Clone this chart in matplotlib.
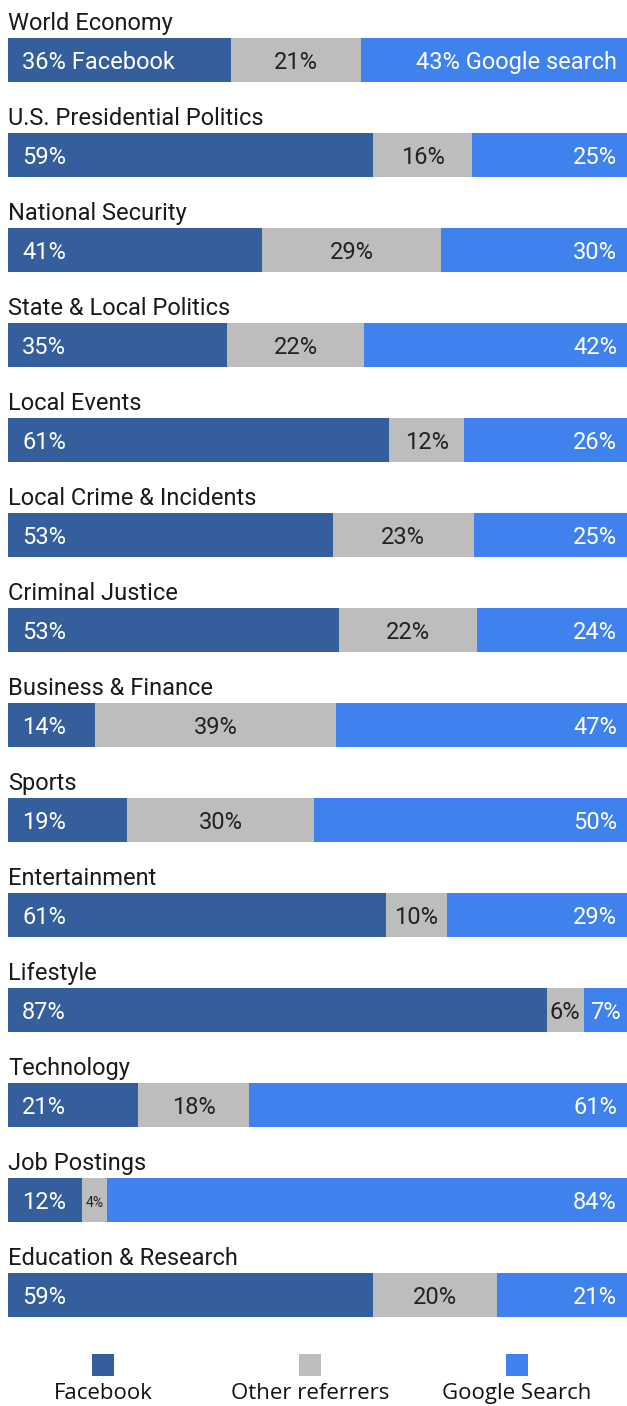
import numpy as np
import matplotlib.pyplot as plt

categories = ['World Economy', 'U.S. Presidential Politics', 'National Security',
              'State & Local Politics', 'Local Events', 'Local Crime & Incidents',
              'Criminal Justice', 'Business & Finance', 'Sports', 'Entertainment',
              'Lifestyle', 'Technology', 'Job Postings', 'Education & Research']
facebook = [36, 59, 41, 35, 61, 53, 53, 14, 19, 61, 87, 21, 12, 59]
other = [21, 16, 29, 22, 12, 23, 22, 39, 30, 10, 6, 18, 4, 20]
google = [43, 25, 30, 42, 26, 25, 24, 47, 50, 29, 7, 61, 84, 21]
legend_labels = ['Facebook', 'Other referrers', 'Google Search']

c_fb = '#355f9c'
c_other = '#bdbdbd'
c_google = '#3f82ee'
colors = [c_fb, c_other, c_google]

W, H = 627, 1406
fig = plt.figure(figsize=(W / 100, H / 100), dpi=100)
ax = fig.add_axes([0, 0, 1, 1])
ax.axis('off')

# x: 0% at 8px, 100% at 627px ; y: row i centred at 60 + 95*i px
px_per_pct = (W - 8) / 100
ax.set_xlim(-8 / px_per_pct, 100)
ax.set_ylim((H - 60) / 95, -60 / 95)

fb = np.array(facebook, float)
ot = np.array(other, float)
go = np.array(google, float)
tot = fb + ot + go
fb_w = fb / tot * 100
ot_w = ot / tot * 100
go_w = go / tot * 100

y = np.arange(len(categories))
h = 44 / 95
ax.barh(y, fb_w, height=h, color=c_fb, linewidth=0)
ax.barh(y, ot_w, left=fb_w, height=h, color=c_other, linewidth=0)
ax.barh(y, go_w, left=fb_w + ot_w, height=h, color=c_google, linewidth=0)

bar_font = 'Roboto'
fs = 17
base = 9 / 95
for i, cat in enumerate(categories):
    ax.text(0, i - 30 / 95, cat, fontsize=fs, family=bar_font, color='#1a1a1a',
            va='baseline', ha='left')
    fb_txt = f'{facebook[i]}%' + (' Facebook' if i == 0 else '')
    go_txt = f'{google[i]}%' + (' Google search' if i == 0 else '')
    ax.annotate(fb_txt, (0, i + base), xytext=(14, 0), textcoords='offset pixels',
                ha='left', va='baseline', color='white', fontsize=fs, family=bar_font)
    small = ot[i] < 5
    ax.text(fb_w[i] + ot_w[i] / 2, i + base - (2 / 95 if small else 0), f'{other[i]}%',
            ha='center', va='baseline', color='#222222',
            fontsize=10 if small else fs, family=bar_font)
    if go_w[i] < 9:
        ax.text(fb_w[i] + ot_w[i] + go_w[i] / 2, i + base, go_txt, ha='center',
                va='baseline', color='white', fontsize=fs, family=bar_font)
    else:
        ax.annotate(go_txt, (100, i + base), xytext=(-10, 0), textcoords='offset pixels',
                    ha='right', va='baseline', color='white', fontsize=fs, family=bar_font)

# legend: squares above labels
for xc, lbl, col in zip([103, 310, 517], legend_labels, colors):
    fig.patches.append(plt.Rectangle(((xc - 11) / W, 1 - 1376 / H), 22 / W, 22 / H,
                                     transform=fig.transFigure, color=col, lw=0))
    fig.text(xc / W, 1 - 1399 / H, lbl, ha='center', va='baseline', fontsize=16,
             family='Open Sans', color='#111111')

plt.savefig('out.png', dpi=100)
